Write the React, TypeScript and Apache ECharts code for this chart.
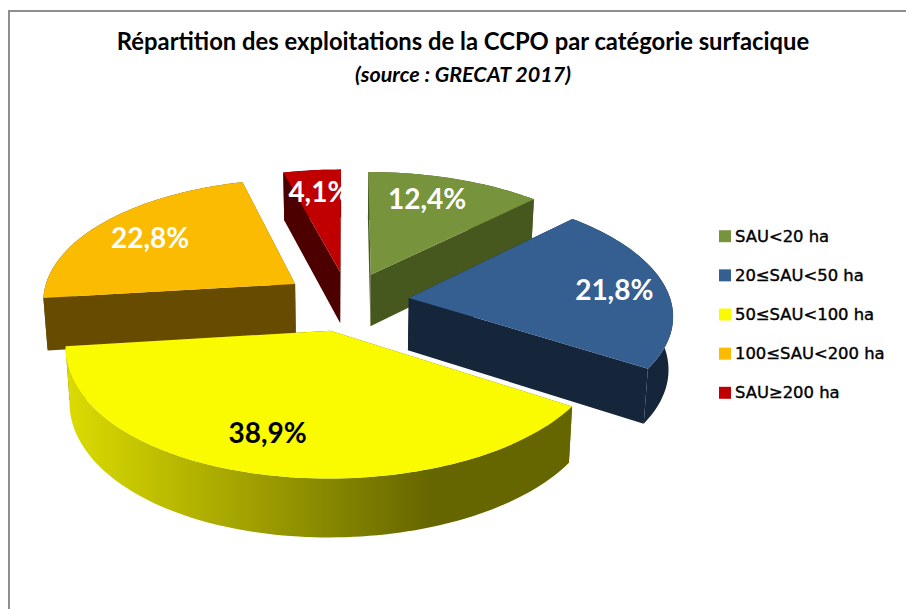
import React, { useEffect, useRef } from "react";
import * as echarts from "echarts";

const categories = ["SAU<20 ha", "20≤SAU<50 ha", "50≤SAU<100 ha", "100≤SAU<200 ha", "SAU≥200 ha"];
const shares = [12.4, 21.8, 38.9, 22.8, 4.1];
const topColors = ["#77933c", "#355f91", "#fafa00", "#fbbb00", "#c00000"];
const wallColors = ["#47581f", "#15253a", "#666600", "#664b00", "#4d0000"];
const labelColors = ["#ffffff", "#ffffff", "#000000", "#ffffff", "#ffffff"];
const labelRadii = [0.72, 0.8, 0.76, 0.75, 0.75];
const labelNudgeX = [-5, 1, -11, 1, 3];
const labelNudgeY = [-5, 2, -3, 0, -3];
const sliceNudgeX = [1.5, 0.5, -1, 0, 2];
const sliceNudgeY = [1, 1, 1.5, 0, 0];
const drawOrder = [4, 0, 3, 1, 2];

const CX = 346, CY = 300, RX = 262, RY = 121.5, PERSP = 0.124, EXPLODE = 0.24, DEPTH = 52.5, LEFT = 9.2e-5;

const rad = (d: number) => (d * Math.PI) / 180;
const project = (X: number, S: number, z = 0): number[] => {
  const d = 1 - PERSP * S;
  let x = (RX * X) / d;
  if (x < 0) x += LEFT * x * x;
  return [CX + x * (1 - 0.014 * z), CY + (RY * S) / d + (z * DEPTH) / Math.pow(d, 0.7)];
};

const renderSlice = (idx: number) => (_p: any, api: any) => {
  const value = api.value(0) as number;
  const total = shares.reduce((a, b) => a + b, 0);
  const before = shares.slice(0, idx).reduce((a, b) => a + b, 0);
  const a0 = (before / total) * 360;
  const a1 = a0 + (value / total) * 360;
  const mid = rad((a0 + a1) / 2);
  const ex = EXPLODE * Math.sin(mid), es = -EXPLODE * Math.cos(mid);
  const raw = (deg: number, r: number, z: number) =>
    project(ex + r * Math.sin(rad(deg)), es - r * Math.cos(rad(deg)), z);
  const at = (deg: number, r: number, z: number) => {
    const p = raw(deg, r, z);
    return [p[0] + sliceNudgeX[idx], p[1] + sliceNudgeY[idx]];
  };
  const n = Math.max(4, Math.ceil((a1 - a0) / 1.5));
  const arc = (z: number) => {
    const pts: number[][] = [];
    for (let i = 0; i <= n; i++) pts.push(at(a0 + ((a1 - a0) * i) / n, 1, z));
    return pts;
  };
  const wall = wallColors[idx];
  const poly = (points: number[][], style: any) => ({ type: "polygon", shape: { points }, style });
  const wallFill =
    idx === 2
      ? new echarts.graphic.LinearGradient(0, 0, 1, 0, [
          { offset: 0, color: "#dcdc00" },
          { offset: 0.72, color: "#666600" },
          { offset: 1, color: "#666600" },
        ])
      : wall;
  const top = arc(0), bottom = arc(1);
  const apex0 = at(0, 0, 0), apex1 = at(0, 0, 1);
  const lp = raw((a0 + a1) / 2, labelRadii[idx], 0);
  return {
    type: "group",
    children: [
      poly([apex0, top[0], bottom[0], apex1], { fill: wall }),
      poly([apex0, top[n], bottom[n], apex1], { fill: wall }),
      poly([...top, ...bottom.slice().reverse()], { fill: wallFill }),
      poly([apex0, ...top], { fill: topColors[idx] }),
      {
        type: "text",
        style: {
          text: value.toFixed(1).replace(".", ",") + "%",
          x: lp[0] + labelNudgeX[idx],
          y: lp[1] + labelNudgeY[idx],
          align: "center",
          verticalAlign: "middle",
          fill: labelColors[idx],
          font: 'bold 28px Lato, "Open Sans", sans-serif',
        },
      },
    ],
  };
};

export default function App() {
  const ref = useRef<HTMLDivElement>(null);
  useEffect(() => {
    const chart = echarts.init(ref.current!, undefined, { renderer: "svg" });
    chart.setOption({
      animation: false,
      backgroundColor: "#ffffff",
      title: {
        text: "Répartition des exploitations de la CCPO par catégorie surfacique",
        subtext: "(source : GRECAT 2017)",
        left: 463,
        top: 29,
        padding: 0,
        textAlign: "center",
        itemGap: 10,
        textStyle: { fontFamily: "Lato", fontSize: 23.8, fontWeight: "bold", color: "#000000" },
        subtextStyle: { fontFamily: "Lato", fontSize: 21.5, fontWeight: "bold", fontStyle: "italic", color: "#000000" },
      },
      legend: {
        data: categories,
        orient: "vertical",
        left: 719,
        top: 228,
        padding: 0,
        itemWidth: 12,
        itemHeight: 12,
        itemGap: 22.75,
        icon: "rect",
        textStyle: {
          fontFamily: '"DejaVu Sans"',
          fontSize: 16.4,
          lineHeight: 16,
          color: "#000000",
          textBorderColor: "#000000",
          textBorderWidth: 0.4,
          padding: [0, 0, 0, -1],
        },
      },
      graphic: [
        { type: "line", shape: { x1: 9, y1: 10, x2: 9, y2: 609 }, style: { stroke: "#8e8e8e", lineWidth: 2 } },
        { type: "line", shape: { x1: 8, y1: 11, x2: 906, y2: 11 }, style: { stroke: "#8e8e8e", lineWidth: 2 } },
      ],
      series: drawOrder.map((i) => ({
        type: "custom",
        name: categories[i],
        coordinateSystem: "none",
        itemStyle: { color: topColors[i] },
        renderItem: renderSlice(i),
        data: [[shares[i]]],
        silent: true,
      })),
    });
    return () => chart.dispose();
  }, []);
  return <div ref={ref} style={{ position: "fixed", left: 0, top: 0, width: 906, height: 609 }} />;
}
